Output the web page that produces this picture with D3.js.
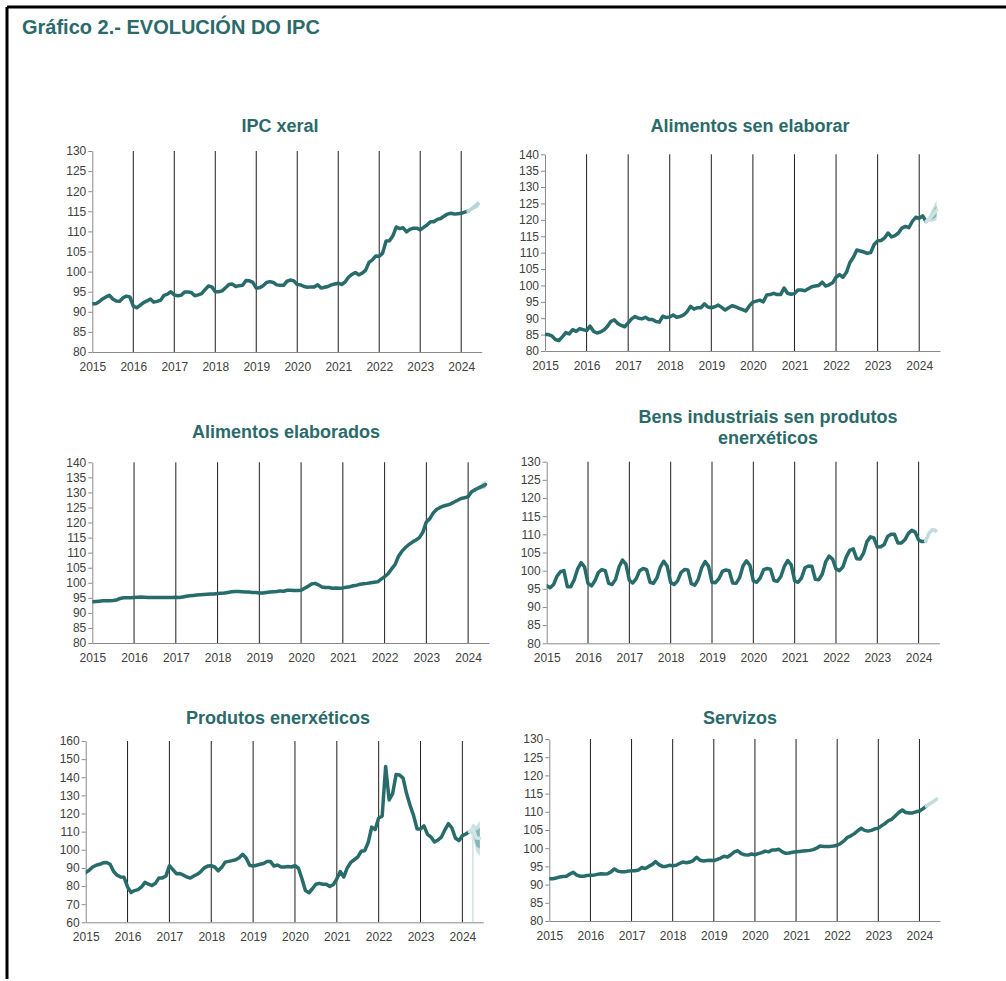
<!DOCTYPE html>
<meta charset="utf-8">
<style>

body {
  margin: 0;
  background: #fff;
}

svg {
  font-family: "Liberation Sans", Arial, sans-serif;
}

.frame {
  stroke: #000;
  stroke-width: 3px;
}

.main-title {
  font-size: 20px;
  font-weight: bold;
  fill: #2b6a6a;
}

.title {
  font-size: 18px;
  font-weight: bold;
  fill: #2b6a6a;
  text-anchor: middle;
}

.axis text {
  font-size: 12px;
  fill: #404040;
}

.axis path,
.axis line {
  stroke: #8a8a8a;
}

.year {
  stroke: #1e1e1e;
  stroke-width: 1px;
}

.line {
  fill: none;
  stroke: #276b6b;
  stroke-width: 3.5px;
  stroke-linejoin: round;
  stroke-linecap: round;
}

.band-outer {
  fill: #c9e0e0;
}

.band-inner {
  fill: #86b6b6;
}

.fc-line {
  fill: none;
  stroke-width: 3.5px;
  stroke-linejoin: round;
  stroke-linecap: round;
}

.spike {
  stroke: #cfe3e3;
  stroke-width: 1.5px;
}

</style>
<svg width="1006" height="981"></svg>
<script src="https://cdn.jsdelivr.net/npm/d3@7"></script>
<script>

// monthly index values, Jan 2015 .. Mar 2024
var ipcXeral = [
  92.0, 92.0, 92.5, 93.2, 93.7, 94.1, 93.2, 92.7, 92.6, 93.5, 93.9, 93.7,
  91.4, 91.0, 91.6, 92.3, 92.7, 93.2, 92.4, 92.6, 92.9, 94.1, 94.4, 95.0,
  94.2, 94.0, 94.1, 94.9, 94.9, 94.8, 94.0, 94.2, 94.5, 95.5, 96.4, 96.2,
  95.0, 95.0, 95.2, 96.0, 96.8, 96.9, 96.3, 96.5, 96.6, 97.8, 97.7, 97.3,
  95.9, 96.0, 96.5, 97.3, 97.5, 97.3, 96.7, 96.6, 96.6, 97.6, 97.9, 97.7,
  96.8, 96.7, 96.3, 96.1, 96.2, 96.2, 96.7, 95.9, 96.1, 96.3, 96.7, 96.9,
  97.1, 96.8, 97.4, 98.6, 99.3, 99.8, 99.2, 99.6, 100.3, 102.3, 102.9, 103.9,
  103.8, 104.6, 107.6, 107.7, 108.9, 111.1, 110.7, 110.9, 109.9, 110.5, 110.8, 110.8,
  110.4, 111.0, 111.6, 112.4, 112.4, 113.0, 113.2, 113.8, 114.3, 114.5, 114.3, 114.4,
  114.5, 114.8, 115.0
];

var alimentosSenElaborar = [
  85.0, 85.0, 84.6, 83.5, 83.2, 84.3, 85.6, 85.2, 86.5, 86.0, 86.8, 86.5,
  86.2, 87.6, 86.0, 85.5, 85.8, 86.4, 87.5, 89.0, 89.5, 88.4, 87.8, 87.4,
  88.6, 89.8, 90.5, 90.0, 89.8, 90.3, 89.6, 89.6, 89.0, 88.8, 90.6, 90.2,
  90.4, 91.0, 90.3, 90.5, 91.0, 92.0, 93.6, 92.8, 93.2, 93.2, 94.4, 93.4,
  93.2, 93.5, 94.0, 93.3, 92.5, 93.2, 93.8, 93.5, 93.0, 92.6, 92.2, 93.8,
  94.9, 95.2, 95.5, 95.0, 97.1, 97.2, 97.6, 97.2, 97.2, 99.2, 97.6, 97.3,
  97.5, 98.6, 98.6, 98.4, 99.0, 99.6, 99.8, 100.0, 101.0, 99.8, 100.2, 100.8,
  102.5, 103.3, 102.5, 104.0, 107.0, 108.6, 110.8, 110.5, 110.2, 109.8, 110.0, 112.5,
  113.6, 113.7, 114.5, 116.0, 114.8, 115.2, 116.0, 117.5, 118.0, 117.6, 119.5, 120.8,
  120.5, 121.2, 119.5
];

var alimentosElaborados = [
  93.7, 93.8, 93.9, 94.0, 94.0, 94.0, 94.1, 94.3, 94.8, 95.0, 95.0, 95.0,
  95.1, 95.2, 95.3, 95.2, 95.1, 95.1, 95.1, 95.1, 95.1, 95.1, 95.1, 95.1,
  95.2, 95.1, 95.3, 95.5, 95.7, 95.8, 95.9, 96.0, 96.1, 96.2, 96.3, 96.3,
  96.4, 96.5, 96.6, 96.8, 97.0, 97.1, 97.1, 97.0, 96.9, 96.9, 96.8, 96.8,
  96.6, 96.6, 96.8, 96.9, 97.0, 97.1, 97.3, 97.2, 97.5, 97.5, 97.4, 97.4,
  97.5, 98.2, 98.8, 99.6, 99.8, 99.3, 98.6, 98.4, 98.4, 98.2, 98.3, 98.2,
  98.3, 98.5, 98.7, 99.0, 99.2, 99.5, 99.7, 99.8, 100.0, 100.2, 100.3, 101.2,
  102.0, 103.0, 104.6, 106.0, 108.8, 110.5, 111.7, 112.7, 113.5, 114.2, 115.0, 116.8,
  120.2, 121.3, 123.2, 124.4, 125.0, 125.5, 125.8, 126.2, 126.8, 127.4, 128.0, 128.2,
  128.6, 130.2, 130.9
];

var bensIndustriais = [
  95.8, 95.3, 96.2, 98.5, 99.7, 100.0, 95.6, 95.6, 97.5, 100.5, 102.2, 101.0,
  96.5, 95.8, 97.2, 99.5, 100.3, 100.0, 96.5, 96.2, 97.6, 101.0, 102.9, 101.8,
  97.3, 96.6, 97.8, 100.0, 100.6, 100.3, 96.8, 96.5, 98.0, 101.0, 102.6, 101.2,
  96.7, 96.2, 97.2, 99.5, 100.3, 100.2, 96.4, 96.0, 97.6, 100.8, 102.5, 101.2,
  96.8, 96.7, 97.8, 99.8, 100.2, 100.0, 96.6, 96.5, 98.0, 101.3, 102.7, 101.5,
  97.2, 96.8, 98.0, 100.3, 100.6, 100.4, 97.3, 97.1, 98.4, 101.2, 102.8, 101.6,
  97.2, 96.8, 98.0, 100.8, 101.3, 101.2, 97.6, 97.5, 99.0, 102.4, 104.0, 103.2,
  100.5, 100.0, 101.0, 103.8, 105.6, 106.0, 103.3, 103.2, 104.8, 108.0, 109.3, 109.0,
  106.5, 106.6, 107.2, 109.4, 110.0, 110.0, 107.6, 107.6, 108.5, 110.2, 111.1, 110.6,
  108.4, 108.0, 108.1
];

var produtosEnerxeticos = [
  87.5, 88.7, 90.5, 91.5, 92.0, 92.8, 93.0, 92.0, 88.0, 86.0, 85.0, 84.8,
  79.5, 76.5, 77.5, 78.0, 79.5, 82.0, 81.0, 80.3, 81.5, 84.5, 84.5, 85.5,
  91.2, 89.0, 86.8, 86.9, 86.0, 85.0, 84.4, 85.5, 86.5, 88.0, 90.0, 91.0,
  91.2, 90.5, 88.4, 90.3, 93.2, 93.6, 94.0, 94.5, 95.6, 97.5, 95.5, 91.5,
  91.0, 91.5, 92.0, 92.4, 93.6, 93.5, 91.0, 91.6, 90.5, 90.5, 90.8, 90.5,
  91.2, 89.8, 84.0, 77.5, 76.3, 78.5, 81.0, 81.5, 81.0, 81.0, 79.7, 80.8,
  84.0, 88.0, 85.0, 90.0, 93.0, 94.5, 96.0, 99.2, 99.5, 104.0, 112.5, 111.2,
  117.5, 118.5, 146.0, 127.5, 131.0, 141.5, 141.2, 139.5, 131.0, 124.5, 119.0, 111.5,
  111.5, 113.2, 108.5, 107.0, 104.3, 105.4, 107.0, 111.0, 114.4, 112.0, 106.5, 105.0,
  107.8, 108.7, 110.0
];

var servizos = [
  91.6, 91.6, 91.8, 92.1, 92.2, 92.3, 92.9, 93.4, 92.6, 92.3, 92.3, 92.5,
  92.6, 92.6, 92.8, 93.0, 92.9, 93.0, 93.5, 94.3, 93.7, 93.5, 93.5, 93.7,
  93.8, 93.8, 94.0, 94.7, 94.4, 95.0, 95.5, 96.3, 95.5, 95.0, 95.0, 95.3,
  95.2, 95.3, 95.8, 96.2, 96.0, 96.2, 96.6, 97.5, 96.7, 96.5, 96.6, 96.7,
  96.6, 96.9, 97.3, 97.8, 97.6, 98.2, 99.0, 99.3, 98.5, 98.2, 98.1, 98.4,
  98.2, 98.5, 98.8, 99.2, 99.0, 99.5, 99.5, 99.7, 99.0, 98.6, 98.7, 98.9,
  99.0, 99.1, 99.2, 99.3, 99.4, 99.6, 100.0, 100.6, 100.5, 100.5, 100.5, 100.6,
  100.8, 101.3, 102.0, 103.0, 103.4, 104.0, 104.8, 105.5, 104.9, 104.7, 104.9, 105.3,
  105.5, 106.2, 106.8, 107.6, 108.0, 108.9, 109.8, 110.5, 109.8, 109.7, 109.7, 110.0,
  110.2, 110.8, 111.6
];

// forecast Mar..Jun 2024: central path and fan bounds
var fcMonths = [2, 3, 4, 5];

var fcXeral = {
  mid:  [115.0, 115.6, 116.2, 116.8],
  inLo: [115.0, 115.4, 115.9, 116.3], inHi: [115.0, 115.8, 116.6, 117.3],
  outLo: [115.0, 115.2, 115.6, 115.9], outHi: [115.0, 116.0, 116.9, 117.8]
};
var fcSenElaborar = {
  mid:  [119.5, 120.3, 121.6, 123.0],
  inLo: [119.5, 119.8, 120.3, 121.0], inHi: [119.5, 120.9, 122.7, 124.4],
  outLo: [119.5, 119.4, 119.5, 119.8], outHi: [119.5, 121.6, 123.8, 126.0]
};
var fcElaborados = {
  mid:  [130.9, 131.5, 132.0, 132.6],
  inLo: [130.9, 131.0, 131.4, 131.8], inHi: [130.9, 132.0, 132.7, 133.4],
  outLo: [130.9, 130.7, 131.0, 131.2], outHi: [130.9, 132.3, 133.2, 134.0]
};
var fcBens = {
  mid:  [108.1, 110.3, 111.3, 111.0],
  inLo: [108.1, 110.1, 111.0, 110.7], inHi: [108.1, 110.5, 111.6, 111.3],
  outLo: [108.1, 109.9, 110.8, 110.4], outHi: [108.1, 110.7, 111.8, 111.6]
};
var fcEnerxeticos = {
  mid:  [110.0, 111.8, 106.5, 106.3],
  inLo: [110.0, 109.5, 102.0, 100.5], inHi: [110.0, 113.0, 110.5, 112.0],
  outLo: [110.0, 107.5, 99.0, 96.5], outHi: [110.0, 114.5, 113.0, 116.0],
  spike: 60 // lowest bound in April drops to the floor of the axis
};
var fcServizos = {
  mid:  [111.6, 112.2, 112.8, 113.5],
  inLo: [111.6, 112.0, 112.6, 113.2], inHi: [111.6, 112.4, 113.0, 113.8],
  outLo: [111.6, 111.9, 112.4, 113.0], outHi: [111.6, 112.5, 113.2, 114.0]
};

var years = d3.range(2015, 2025);

var panels = [
  {title: ["IPC xeral"], values: ipcXeral, fc: fcXeral, fcColor: "#b9d6d6",
   left: 92.3, right: 481.7, top: 151, bottom: 352, yDomain: [80, 130], step: 5, tx: 280, ty: 132},
  {title: ["Alimentos sen elaborar"], values: alimentosSenElaborar, fc: fcSenElaborar, fcColor: "#cde3e3",
   left: 545, right: 940, top: 154.3, bottom: 351, yDomain: [80, 140], step: 5, tx: 750, ty: 132},
  {title: ["Alimentos elaborados"], values: alimentosElaborados, fc: fcElaborados, fcColor: "#2f7272",
   left: 92.3, right: 489, top: 462.3, bottom: 643, yDomain: [80, 140], step: 5, tx: 286, ty: 438},
  {title: ["Bens industriais sen produtos", "enerxéticos"], values: bensIndustriais, fc: fcBens, fcColor: "#c3dcdc",
   left: 546.7, right: 939.3, top: 461.7, bottom: 643.3, yDomain: [80, 130], step: 5, tx: 768, ty: 423},
  {title: ["Produtos enerxéticos"], values: produtosEnerxeticos, fc: fcEnerxeticos, fcColor: "#d3e6e6",
   left: 85.7, right: 483.3, top: 741, bottom: 922.3, yDomain: [60, 160], step: 10, tx: 278, ty: 724},
  {title: ["Servizos"], values: servizos, fc: fcServizos, fcColor: "#c3dcdc",
   left: 549.3, right: 940, top: 739, bottom: 921, yDomain: [80, 130], step: 5, tx: 740, ty: 724}
];

var svg = d3.select("svg");

// page frame (top and left edges visible)
svg.append("line").attr("class", "frame")
    .attr("x1", 7).attr("y1", 7).attr("x2", 1006).attr("y2", 7);
svg.append("line").attr("class", "frame")
    .attr("x1", 7).attr("y1", 7).attr("x2", 7).attr("y2", 979);

svg.append("text")
    .attr("class", "main-title")
    .attr("x", 22)
    .attr("y", 34)
    .text("Gráfico 2.- EVOLUCIÓN DO IPC");

panels.forEach(function(p, k) {
  var x = d3.scaleLinear().domain([2015, 2024.5]).range([p.left, p.right]),
      y = d3.scaleLinear().domain(p.yDomain).range([p.bottom, p.top]);

  var g = svg.append("g");

  g.append("defs").append("clipPath")
      .attr("id", "clip" + k)
    .append("rect")
      .attr("x", p.left)
      .attr("y", p.top)
      .attr("width", p.right - p.left)
      .attr("height", p.bottom - p.top);

  var title = g.append("text")
      .attr("class", "title")
      .attr("x", p.tx)
      .attr("y", p.ty);
  title.selectAll("tspan")
      .data(p.title)
    .enter().append("tspan")
      .attr("x", p.tx)
      .attr("dy", function(d, i) { return i ? 21 : 0; })
      .text(function(d) { return d; });

  // year separators
  g.selectAll(".year")
      .data(years.slice(1))
    .enter().append("line")
      .attr("class", "year")
      .attr("x1", function(d) { return x(d); })
      .attr("x2", function(d) { return x(d); })
      .attr("y1", p.top)
      .attr("y2", p.bottom);

  g.append("g")
      .attr("class", "axis")
      .attr("transform", "translate(" + p.left + ",0)")
      .call(d3.axisLeft(y)
          .tickValues(d3.range(p.yDomain[0], p.yDomain[1] + 0.1, p.step))
          .tickSize(4)
          .tickSizeOuter(0)
          .tickPadding(2));

  g.append("g")
      .attr("class", "axis")
      .attr("transform", "translate(0," + p.bottom + ")")
      .call(d3.axisBottom(x)
          .tickValues(years)
          .tickFormat(d3.format("d"))
          .tickSize(0)
          .tickPadding(10));

  var plot = g.append("g").attr("clip-path", "url(#clip" + k + ")");

  var fcX = function(d, i) { return x(2024 + fcMonths[i] / 12); };
  var band = function(lo, hi) {
    return d3.area()
        .x(function(d, i) { return fcX(d, i); })
        .y0(function(d, i) { return y(lo[i]); })
        .y1(function(d, i) { return y(hi[i]); })(fcMonths);
  };

  if (p.fc.spike != null) {
    plot.append("line")
        .attr("class", "spike")
        .attr("x1", fcX(null, 1))
        .attr("x2", fcX(null, 1))
        .attr("y1", y(p.fc.outLo[1]))
        .attr("y2", y(p.fc.spike));
  }

  plot.append("path")
      .attr("class", "band-outer")
      .attr("d", band(p.fc.outLo, p.fc.outHi));
  plot.append("path")
      .attr("class", "band-inner")
      .attr("d", band(p.fc.inLo, p.fc.inHi));

  plot.append("path")
      .datum(p.values)
      .attr("class", "line")
      .attr("d", d3.line()
          .x(function(d, i) { return x(2015 + i / 12); })
          .y(function(d) { return y(d); }));

  plot.append("path")
      .datum(p.fc.mid)
      .attr("class", "fc-line")
      .attr("stroke", p.fcColor)
      .attr("d", d3.line()
          .x(fcX)
          .y(function(d) { return y(d); }));
});

</script>
